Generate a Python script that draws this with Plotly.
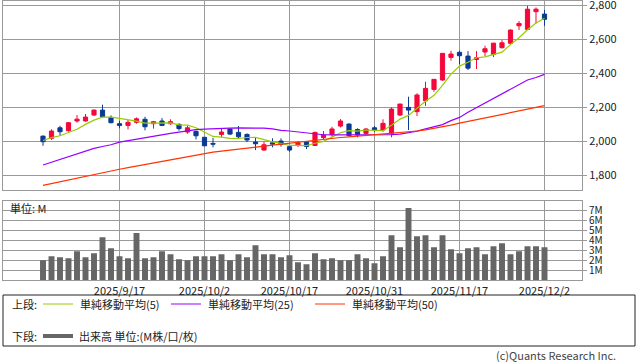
import plotly.graph_objects as go

W, H = 638, 362

dates = ["2025/9/3", "2025/9/4", "2025/9/5", "2025/9/8", "2025/9/9", "2025/9/10", "2025/9/11", "2025/9/12",
         "2025/9/16", "2025/9/17", "2025/9/18", "2025/9/19", "2025/9/22", "2025/9/24", "2025/9/25", "2025/9/26",
         "2025/9/29", "2025/9/30", "2025/10/1", "2025/10/2", "2025/10/3", "2025/10/6", "2025/10/7", "2025/10/8",
         "2025/10/9", "2025/10/10", "2025/10/14", "2025/10/15", "2025/10/16", "2025/10/17", "2025/10/20",
         "2025/10/21", "2025/10/22", "2025/10/23", "2025/10/24", "2025/10/27", "2025/10/28", "2025/10/29",
         "2025/10/30", "2025/10/31", "2025/11/4", "2025/11/5", "2025/11/6", "2025/11/7", "2025/11/10",
         "2025/11/11", "2025/11/12", "2025/11/13", "2025/11/14", "2025/11/17", "2025/11/18", "2025/11/19",
         "2025/11/20", "2025/11/21", "2025/11/25", "2025/11/26", "2025/11/27", "2025/11/28", "2025/12/1",
         "2025/12/2"]

open_ = [2029, 2016, 2078, 2061, 2118, 2118, 2153, 2182, 2139, 2102, 2092, 2110, 2128, 2102, 2118, 2102,
         2098, 2053, 2057, 2022, 1986, 2039, 2071, 2051, 2039, 1994, 1947, 1990, 2000, 1967, 1974, 1996,
         1974, 2020, 2039, 2088, 2100, 2068, 2045, 2078, 2065, 2045, 2153, 2198, 2173, 2237, 2304, 2359,
         2492, 2522, 2500, 2480, 2524, 2509, 2549, 2575, 2678, 2657, 2761, 2747]
high = [2032, 2069, 2090, 2112, 2153, 2159, 2186, 2214, 2151, 2119, 2124, 2139, 2143, 2118, 2135, 2128,
        2104, 2090, 2061, 2024, 2019, 2071, 2075, 2088, 2045, 2022, 1996, 2016, 2016, 1976, 2000, 2000,
        2055, 2059, 2084, 2129, 2104, 2075, 2075, 2088, 2128, 2198, 2218, 2261, 2281, 2349, 2363, 2516,
        2531, 2531, 2529, 2529, 2561, 2578, 2594, 2657, 2706, 2796, 2786, 2771]
low = [1972, 2006, 2031, 2055, 2108, 2114, 2147, 2139, 2104, 2075, 2069, 2102, 2063, 2073, 2088, 2096,
       2061, 2043, 2010, 1971, 1963, 2024, 2035, 2016, 1994, 1947, 1943, 1963, 1967, 1937, 1965, 1953,
       1971, 2012, 2025, 2080, 2025, 2022, 2029, 2055, 2055, 2022, 2147, 2065, 2147, 2206, 2290, 2355,
       2473, 2452, 2418, 2424, 2500, 2494, 2545, 2569, 2653, 2657, 2692, 2678]
close = [1996, 2059, 2055, 2108, 2129, 2141, 2182, 2143, 2108, 2092, 2110, 2131, 2084, 2114, 2092, 2114,
         2073, 2078, 2031, 1972, 1982, 2053, 2041, 2025, 2006, 1984, 1978, 1982, 1980, 1947, 1990, 1968,
         2051, 2035, 2071, 2118, 2032, 2035, 2071, 2065, 2104, 2188, 2218, 2182, 2271, 2310, 2363, 2516,
         2512, 2502, 2429, 2490, 2543, 2576, 2578, 2653, 2692, 2776, 2776, 2716]

ma5 = [2003, 2020, 2031, 2049, 2069, 2098, 2123, 2141, 2141, 2133, 2127, 2117, 2105, 2106, 2106, 2107,
       2095, 2094, 2078, 2054, 2027, 2023, 2016, 2015, 2021, 2022, 2007, 1995, 1986, 1974, 1975, 1973,
       1987, 1998, 2023, 2049, 2061, 2058, 2065, 2064, 2061, 2093, 2129, 2151, 2193, 2234, 2269, 2328,
       2394, 2441, 2464, 2490, 2495, 2508, 2523, 2568, 2608, 2655, 2695, 2723]
ma25 = [1859, 1876, 1892, 1910, 1925, 1942, 1957, 1968, 1978, 1994, 2003, 2012, 2022, 2030, 2038, 2045,
        2053, 2061, 2067, 2070, 2073, 2075, 2076, 2077, 2077, 2077, 2076, 2072, 2063, 2059, 2053, 2047,
        2039, 2037, 2036, 2036, 2036, 2036, 2036, 2036, 2036, 2038, 2041, 2048, 2058, 2072, 2085, 2097,
        2120, 2139, 2169, 2196, 2222, 2251, 2276, 2304, 2331, 2359, 2374, 2392]
ma50 = [1739, 1750, 1761, 1771, 1781, 1792, 1802, 1813, 1824, 1834, 1844, 1853, 1862, 1872, 1881, 1891,
        1901, 1910, 1919, 1928, 1935, 1941, 1946, 1952, 1958, 1964, 1970, 1976, 1982, 1988, 1994, 1999,
        2005, 2011, 2017, 2021, 2024, 2028, 2032, 2036, 2039, 2044, 2047, 2051, 2059, 2066, 2074, 2084,
        2094, 2105, 2115, 2126, 2136, 2146, 2156, 2166, 2175, 2185, 2196, 2208]

volume_m = [2.0, 2.4, 2.3, 2.2, 2.9, 2.3, 2.7, 4.3, 3.2, 2.4, 2.2, 4.7, 2.2, 2.3, 2.9, 2.6, 2.1, 2.0,
            2.4, 2.4, 2.4, 2.6, 2.0, 2.6, 2.3, 3.5, 2.6, 2.6, 2.3, 2.5, 1.8, 1.6, 2.7, 2.1, 2.2, 2.0,
            2.0, 2.6, 2.2, 1.7, 2.4, 4.5, 3.3, 7.2, 4.4, 4.5, 3.3, 4.5, 3.1, 2.7, 3.2, 3.3, 2.6, 3.4,
            3.7, 2.6, 2.9, 3.4, 3.4, 3.3]

date_ticks = ["2025/9/17", "2025/10/2", "2025/10/17", "2025/10/31", "2025/11/17", "2025/12/2"]
price_ticks = [1800, 2000, 2200, 2400, 2600, 2800]
price_tick_text = ["1,800", "2,000", "2,200", "2,400", "2,600", "2,800"]
vol_ticks = [1, 2, 3, 4, 5, 6, 7]
vol_tick_text = ["1M", "2M", "3M", "4M", "5M", "6M", "7M"]

RED = "#f5073b"
BLUE = "#0a3a94"
GRID = "#9a9a9a"
FONT = "Noto Sans CJK JP"


def px(x):
    return x / W


def py(y):
    return 1 - y / H


fig = go.Figure()
fig.add_trace(go.Candlestick(
    x=dates, open=open_, high=high, low=low, close=close,
    increasing=dict(line=dict(color=RED, width=1), fillcolor=RED),
    decreasing=dict(line=dict(color=BLUE, width=1), fillcolor=BLUE),
    whiskerwidth=0, showlegend=False, xaxis="x", yaxis="y", hoverinfo="skip"))
for vals, col in [(ma5, "#99cc00"), (ma25, "#9900ff"), (ma50, "#ff3300")]:
    fig.add_trace(go.Scatter(x=dates, y=vals, mode="lines", line=dict(color=col, width=1.2),
                             showlegend=False, xaxis="x", yaxis="y", hoverinfo="skip"))
fig.add_trace(go.Bar(x=dates, y=volume_m, marker=dict(color="#666666", line=dict(width=0)), width=0.7,
                     showlegend=False, xaxis="x2", yaxis="y2", hoverinfo="skip"))

xr = [-40 / 8.5, (582 - 43) / 8.5]
common_x = dict(domain=[px(3), px(582)], type="category", range=xr, tickvals=date_ticks,
                showgrid=True, gridcolor=GRID, gridwidth=1, showline=True, mirror=True,
                linecolor=GRID, linewidth=1, ticks="", zeroline=False, fixedrange=True)
common_y = dict(side="right", showgrid=True, gridcolor=GRID, gridwidth=1, showline=True, mirror=True,
                linecolor=GRID, linewidth=1, ticks="outside", ticklen=4, tickcolor=GRID,
                zeroline=False, fixedrange=True, ticklabeloverflow="allow", automargin=False)

fig.update_layout(
    width=W, height=H, margin=dict(l=0, r=0, t=0, b=0),
    paper_bgcolor="white", plot_bgcolor="white",
    font=dict(family=FONT, size=11, color="#222222"),
    bargap=0.3, showlegend=False, hovermode=False,
    xaxis=dict(common_x, anchor="y", showticklabels=False, rangeslider=dict(visible=False)),
    yaxis=dict(common_y, anchor="x", domain=[py(190), py(1)], range=[1712, 2824],
               tickmode="array", tickvals=price_ticks, ticktext=price_tick_text, tickfont=dict(size=11)),
    xaxis2=dict(common_x, anchor="y2", showticklabels=True, tickfont=dict(size=11)),
    yaxis2=dict(common_y, anchor="x2", domain=[py(280.3), py(201)], range=[0, 7.9],
                tickmode="array", tickvals=vol_ticks, ticktext=vol_tick_text, tickfont=dict(size=10)),
)

shapes = []
annotations = []
# legend box
shapes.append(dict(type="rect", xref="paper", yref="paper", x0=px(3), x1=px(635), y0=py(346), y1=py(295),
                   line=dict(color="#222222", width=1)))
row1 = 304
row2 = 336
annotations.append(dict(text="上段:", x=px(10), y=py(row1), xref="paper", yref="paper",
                        xanchor="left", yanchor="middle", showarrow=False, font=dict(size=11)))
for x0, col, label, lx in [(43, "#99cc00", "単純移動平均(5)", 78),
                           (171, "#9900ff", "単純移動平均(25)", 206),
                           (315, "#ff3300", "単純移動平均(50)", 350)]:
    shapes.append(dict(type="line", xref="paper", yref="paper", x0=px(x0), x1=px(x0 + 30),
                       y0=py(row1), y1=py(row1), line=dict(color=col, width=1)))
    annotations.append(dict(text=label, x=px(lx), y=py(row1), xref="paper", yref="paper",
                            xanchor="left", yanchor="middle", showarrow=False, font=dict(size=11)))
annotations.append(dict(text="下段:", x=px(10), y=py(row2), xref="paper", yref="paper",
                        xanchor="left", yanchor="middle", showarrow=False, font=dict(size=11)))
shapes.append(dict(type="line", xref="paper", yref="paper", x0=px(43), x1=px(73),
                   y0=py(row2), y1=py(row2), line=dict(color="#666666", width=4)))
annotations.append(dict(text="出来高 単位:(M株/口/枚)", x=px(77), y=py(row2), xref="paper", yref="paper",
                        xanchor="left", yanchor="middle", showarrow=False, font=dict(size=11)))
annotations.append(dict(text="単位: M", x=px(8), y=py(208), xref="paper", yref="paper",
                        xanchor="left", yanchor="middle", showarrow=False, font=dict(size=11)))
annotations.append(dict(text="(c)Quants Research Inc.", x=px(618), y=py(355), xref="paper", yref="paper",
                        xanchor="right", yanchor="middle", showarrow=False,
                        font=dict(size=11, color="#444444")))

fig.update_layout(shapes=shapes, annotations=annotations)
fig.write_html("out.html", config={"displayModeBar": False, "staticPlot": True},
               post_script="document.body.style.margin='0px';document.body.style.overflow='hidden';")
